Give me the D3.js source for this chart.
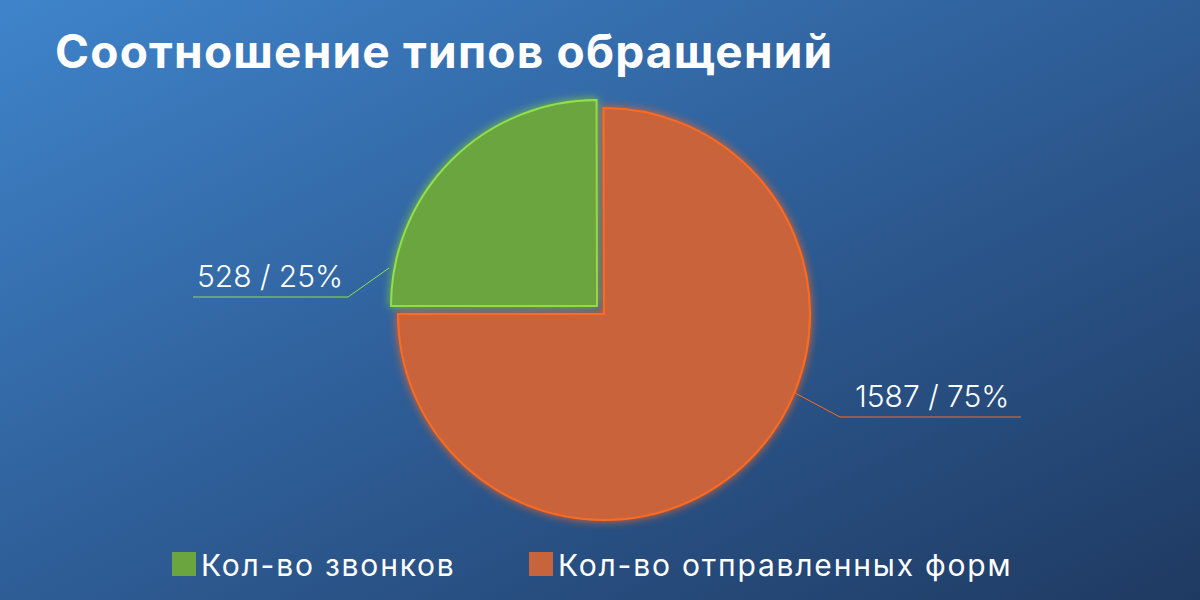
<!DOCTYPE html>
<html><head><meta charset="utf-8">
<script src="https://cdn.jsdelivr.net/npm/d3@7"></script>
<style>body{margin:0;}svg{display:block;}</style>
</head><body>
<svg id="chart" width="1200" height="600"></svg>
<script>
const categories = ["Кол-во звонков", "Кол-во отправленных форм"];
const values = [528, 1587];
const percents = ["25%", "75%"];
const colors = ["#6aa540", "#c8643b"];
const glows = ["#8fe04a", "#ff6a1f"];

const svg = d3.select("#chart");
const defs = svg.append("defs");
const grad = defs.append("linearGradient").attr("id", "bg")
  .attr("x1", 0).attr("y1", 0).attr("x2", 1).attr("y2", 1);
grad.append("stop").attr("offset", 0).attr("stop-color", "#3f84cb");
grad.append("stop").attr("offset", 0.5).attr("stop-color", "#2e5d96");
grad.append("stop").attr("offset", 1).attr("stop-color", "#1f3a62");
svg.append("rect").attr("width", 1200).attr("height", 600).attr("fill", "url(#bg)");

const glow = defs.append("filter").attr("id", "glow")
  .attr("x", "-20%").attr("y", "-20%").attr("width", "140%").attr("height", "140%");
glow.append("feGaussianBlur").attr("stdDeviation", 4).attr("result", "b");
const m = glow.append("feMerge");
m.append("feMergeNode").attr("in", "b");
m.append("feMergeNode").attr("in", "SourceGraphic");

svg.append("text").attr("x", 55).attr("y", 68)
  .attr("fill", "#fff").attr("font-family", "Inter, 'Noto Sans', sans-serif")
  .attr("font-weight", 700).attr("font-size", 46).attr("letter-spacing", 1.2)
  .text("Соотношение типов обращений");

const cx = 604, cy = 314, r = 206;
const pie = d3.pie().sort(null).startAngle(-Math.PI / 2).endAngle(1.5 * Math.PI).value(d => d)(values);
const arc = d3.arc().innerRadius(0).outerRadius(r);
const offsets = [[-7, -8], [0, 0]];

const g = svg.append("g").attr("transform", `translate(${cx},${cy})`);
g.selectAll("path").data(pie).join("path")
  .attr("transform", (d, i) => `translate(${offsets[i]})`)
  .attr("d", arc)
  .attr("fill", (d, i) => colors[i])
  .attr("stroke", (d, i) => glows[i]).attr("stroke-width", 2)
  .attr("filter", "url(#glow)");

// labels with leader lines
const labelPts = [
  {line: [[389, 268], [348, 297], [193, 297]], x: 197, y: 287},
  {line: [[795, 393], [840, 417], [1021, 417]], x: 855, y: 407}
];
labelPts.forEach((p, i) => {
  svg.append("path").attr("d", d3.line()(p.line))
    .attr("fill", "none").attr("stroke", glows[i]).attr("stroke-width", 1);
  svg.append("text").attr("x", p.x).attr("y", p.y)
    .attr("fill", "#fff").attr("font-family", "Inter, 'Noto Sans', sans-serif")
    .attr("font-weight", 300).attr("font-size", 30)
    .text(`${values[i]} / ${percents[i]}`);
});

// legend
const legX = [172, 529];
categories.forEach((c, i) => {
  svg.append("rect").attr("x", legX[i]).attr("y", 552).attr("width", 24).attr("height", 24)
    .attr("fill", colors[i]);
  svg.append("text").attr("x", legX[i] + 29).attr("y", 576)
    .attr("fill", "#fff").attr("font-family", "Inter, 'Noto Sans', sans-serif")
    .attr("font-size", 30).attr("letter-spacing", 1.8).text(c);
});
</script>
</body></html>
